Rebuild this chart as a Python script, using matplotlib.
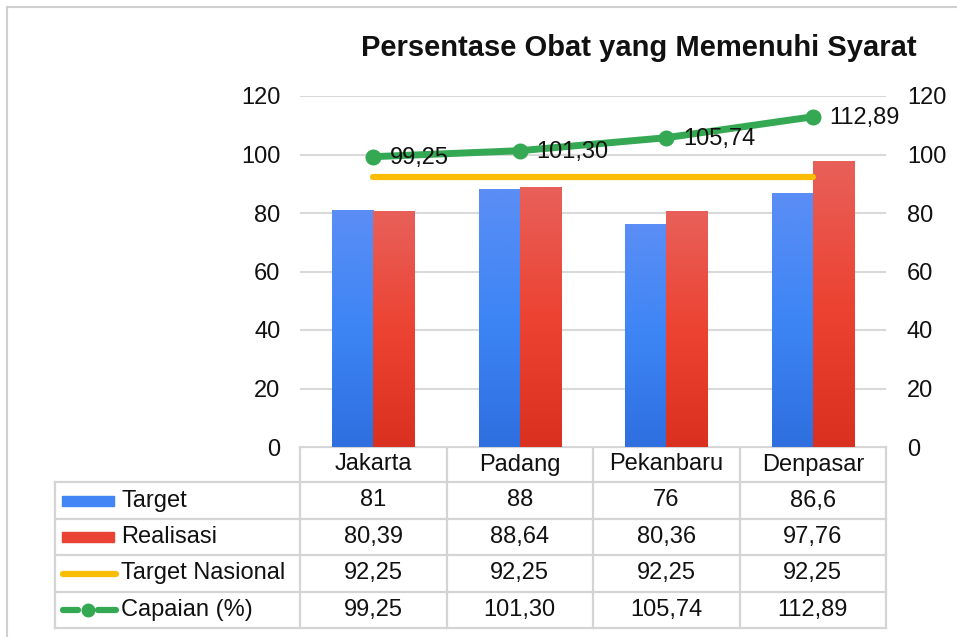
import numpy as np
import matplotlib
matplotlib.use("Agg")
import matplotlib.pyplot as plt
from matplotlib.colors import LinearSegmentedColormap
from matplotlib.lines import Line2D
from matplotlib.patches import Rectangle

plt.rcParams['font.family'] = ['Liberation Sans', 'DejaVu Sans']

# data
kota = ["Jakarta", "Padang", "Pekanbaru", "Denpasar"]
target = [81, 88, 76, 86.6]
realisasi = [80.39, 88.64, 80.36, 97.76]
target_nasional = [92.25, 92.25, 92.25, 92.25]
capaian = [99.25, 101.30, 105.74, 112.89]
seri = ["Target", "Realisasi", "Target Nasional", "Capaian (%)"]
yticks = [0, 20, 40, 60, 80, 100, 120]

W, H = 957, 637
fig = plt.figure(figsize=(W / 100, H / 100), dpi=100)


def fx(px):
    return px / W


def fy(py):
    return 1 - py / H


ax = fig.add_axes([fx(300), fy(447), fx(886) - fx(300), fy(96) - fy(447)])
ax.set_zorder(2)

x = np.arange(len(kota))
bw = 0.28
biru = LinearSegmentedColormap.from_list("biru", ["#5b8ef5", "#3d85f5", "#2f6fe0"])
merah = LinearSegmentedColormap.from_list("merah", ["#e8605a", "#ec4332", "#d93020"])
grad = np.linspace(0, 1, 256).reshape(-1, 1)

b1 = ax.bar(x - bw / 2, target, bw, color="none", zorder=3)
b2 = ax.bar(x + bw / 2, realisasi, bw, color="none", zorder=3)
for bars, cm in [(b1, biru), (b2, merah)]:
    for p in bars:
        x0, y0 = p.get_x(), p.get_y()
        ax.imshow(grad, cmap=cm, aspect="auto", zorder=3,
                  extent=(x0, x0 + p.get_width(), y0, y0 + p.get_height()))

ax.plot(x, target_nasional, color="#fbbc04", lw=4.5, solid_capstyle="round", zorder=4)
ax.plot(x, capaian, color="#34a853", lw=5, marker="o", ms=10.5, zorder=5)
for xi, v in zip(x, capaian):
    ax.annotate(f"{v:.2f}".replace(".", ","), (xi, v), xytext=(12, -1),
                textcoords="offset points", ha="left", va="center",
                fontsize=17, color="#111111", zorder=6)

ax.set_xlim(-0.5, len(kota) - 0.5)
ax.set_ylim(0, 120)
ax.set_yticks(yticks)
ax.set_xticks([])
ax.grid(axis="y", color="#d9d9d9", lw=1.5, zorder=0)
ax.set_axisbelow(True)
ax.tick_params(axis="y", length=0, pad=14, labelsize=17, labelcolor="#111111")
for s in ax.spines.values():
    s.set_visible(False)

ax2 = ax.twinx()
ax2.set_ylim(0, 120)
ax2.set_yticks(yticks)
ax2.tick_params(axis="y", length=0, pad=15, labelsize=17, labelcolor="#111111")
for s in ax2.spines.values():
    s.set_visible(False)

fig.text(fx(639), fy(48), "Persentase Obat yang Memenuhi Syarat", ha="center", va="center",
         fontsize=21, fontweight="bold", color="#111111")

# outer frame
fig.add_artist(Line2D([fx(7), fx(7)], [fy(7), 0], color="#d0d0d0", lw=1.5))
fig.add_artist(Line2D([fx(7), 1], [fy(7), fy(7)], color="#d0d0d0", lw=1.5))

# data table
lc = "#d4d4d4"
col_x = [300 + i * 146.5 for i in range(len(kota) + 1)]
row_y = [447, 482, 519, 555, 592, 628]
left = 55

for i, cx in enumerate(col_x):
    fig.add_artist(Line2D([fx(cx), fx(cx)], [fy(row_y[0]), fy(row_y[-1])], color=lc, lw=1.6))
fig.add_artist(Line2D([fx(left), fx(left)], [fy(row_y[1]), fy(row_y[-1])], color=lc, lw=1.6))
fig.add_artist(Line2D([fx(col_x[0]), fx(col_x[-1])], [fy(row_y[0]), fy(row_y[0])], color=lc, lw=1.6))
for ry in row_y[1:]:
    fig.add_artist(Line2D([fx(left), fx(col_x[-1])], [fy(ry), fy(ry)], color=lc, lw=1.6))

tsize = 17
for j, k in enumerate(kota):
    cx = (col_x[j] + col_x[j + 1]) / 2
    fig.text(fx(cx), fy((row_y[0] + row_y[1]) / 2), k, ha="center", va="center",
             fontsize=tsize, color="#111111")

baris = [
    [f"{v:g}".replace(".", ",") for v in target],
    [f"{v:.2f}".replace(".", ",") for v in realisasi],
    [f"{v:.2f}".replace(".", ",") for v in target_nasional],
    [f"{v:.2f}".replace(".", ",") for v in capaian],
]
for r, vals in enumerate(baris):
    cy = (row_y[r + 1] + row_y[r + 2]) / 2
    fig.text(fx(121), fy(cy), seri[r], ha="left", va="center", fontsize=tsize, color="#111111")
    for j, s in enumerate(vals):
        cx = (col_x[j] + col_x[j + 1]) / 2
        fig.text(fx(cx), fy(cy), s, ha="center", va="center", fontsize=tsize, color="#111111")

# legend swatches in table
def cy_row(r):
    return (row_y[r + 1] + row_y[r + 2]) / 2

for r, c in [(0, "#4285f4"), (1, "#ea4335")]:
    fig.add_artist(Rectangle((fx(62), fy(cy_row(r) + 5)), fx(114) - fx(62), fy(cy_row(r) - 5) - fy(cy_row(r) + 5),
                             color=c, transform=fig.transFigure))
fig.add_artist(Line2D([fx(63), fx(116)], [fy(cy_row(2))] * 2, color="#fbbc04", lw=4.5,
                      solid_capstyle="round"))
fig.add_artist(Line2D([fx(63), fx(78)], [fy(cy_row(3))] * 2, color="#34a853", lw=4.5,
                      solid_capstyle="round"))
fig.add_artist(Line2D([fx(98), fx(116)], [fy(cy_row(3))] * 2, color="#34a853", lw=4.5,
                      solid_capstyle="round"))
fig.add_artist(Line2D([fx(88)], [fy(cy_row(3))], color="#34a853", marker="o", ms=9, lw=0))

fig.savefig("out.png", dpi=100, facecolor="white")
